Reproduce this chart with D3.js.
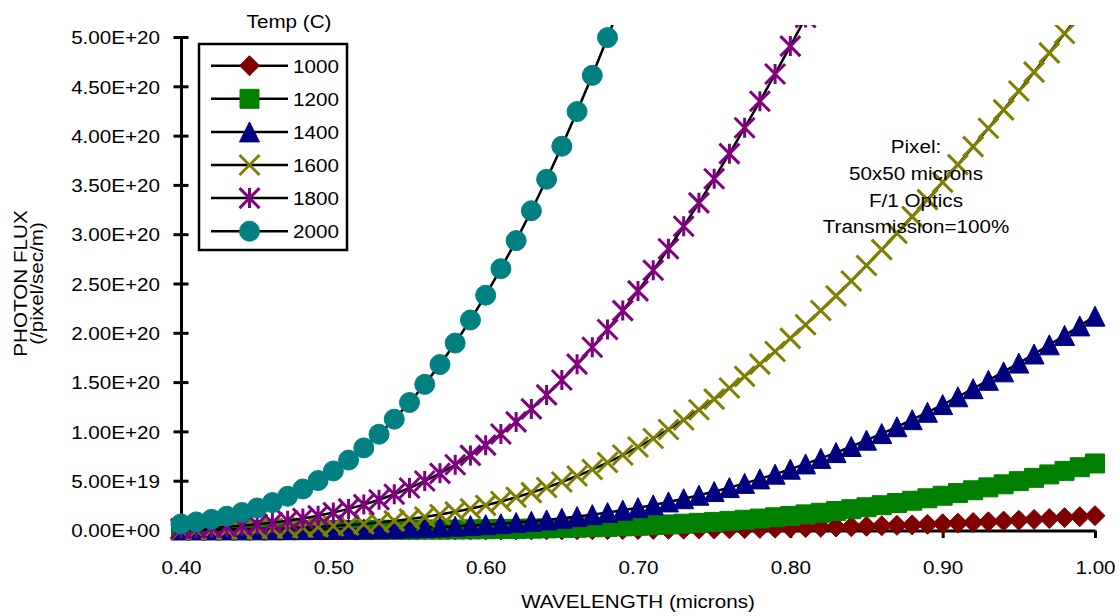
<!DOCTYPE html>
<html>
<head>
<meta charset="utf-8">
<title>Photon flux vs wavelength</title>
<script src="https://cdn.jsdelivr.net/npm/d3@7"></script>
<style>
  html, body { margin: 0; padding: 0; background: #fff; }
  svg { display: block; font-family: "Liberation Sans", Arial, Helvetica, sans-serif; }
</style>
</head>
<body>
<svg id="chart" width="1120" height="616"></svg>
<script>
// Wavelength samples (microns)
const wavelength = [
  0.40, 0.41, 0.42, 0.43, 0.44, 0.45, 0.46, 0.47, 0.48, 0.49,
  0.50, 0.51, 0.52, 0.53, 0.54, 0.55, 0.56, 0.57, 0.58, 0.59,
  0.60, 0.61, 0.62, 0.63, 0.64, 0.65, 0.66, 0.67, 0.68, 0.69,
  0.70, 0.71, 0.72, 0.73, 0.74, 0.75, 0.76, 0.77, 0.78, 0.79,
  0.80, 0.81, 0.82, 0.83, 0.84, 0.85, 0.86, 0.87, 0.88, 0.89,
  0.90, 0.91, 0.92, 0.93, 0.94, 0.95, 0.96, 0.97, 0.98, 0.99,
  1.00
];

// Photon flux per pixel, in units of 1e18 /pixel/sec/m
const FLUX_UNIT = 1e18;

const flux1000 = [
  0.00002, 0.00004, 0.00008, 0.00013, 0.00022, 0.00036, 0.00056, 0.00087, 0.0013, 0.0020,
  0.0029, 0.0041, 0.0059, 0.0082, 0.0113, 0.0153, 0.0206, 0.0273, 0.0359, 0.0467,
  0.0600, 0.0765, 0.0967, 0.121, 0.150, 0.186, 0.227, 0.276, 0.334, 0.400,
  0.478, 0.567, 0.668, 0.784, 0.915, 1.063, 1.230, 1.416, 1.623, 1.852,
  2.106, 2.386, 2.693, 3.029, 3.396, 3.794, 4.226, 4.693, 5.196, 5.737,
  6.318, 6.938, 7.603, 8.310, 9.060, 9.855, 10.70, 11.59, 12.53, 13.51,
  14.55
];

const flux1200 = [
  0.0011, 0.0019, 0.0030, 0.0047, 0.0072, 0.0108, 0.0158, 0.0228, 0.0323, 0.0450,
  0.0619, 0.0839, 0.112, 0.148, 0.193, 0.250, 0.319, 0.404, 0.506, 0.628,
  0.774, 0.946, 1.148, 1.383, 1.654, 1.966, 2.322, 2.727, 3.185, 3.700,
  4.275, 4.917, 5.628, 6.414, 7.278, 8.224, 9.258, 10.38, 11.60, 12.92,
  14.34, 15.86, 17.49, 19.24, 21.10, 23.07, 25.16, 27.38, 29.71, 32.17,
  34.75, 37.46, 40.29, 43.25, 46.34, 49.55, 52.90, 56.36, 59.95, 63.66,
  67.49
];

const flux1400 = [
  0.0212, 0.0324, 0.0485, 0.0711, 0.102, 0.144, 0.200, 0.273, 0.368, 0.488,
  0.639, 0.827, 1.059, 1.340, 1.680, 2.085, 2.565, 3.129, 3.785, 4.545,
  5.418, 6.415, 7.545, 8.820, 10.25, 11.85, 13.62, 15.58, 17.73, 20.09,
  22.66, 25.45, 28.48, 31.74, 35.25, 39.00, 43.01, 47.28, 51.82, 56.62,
  61.69, 67.03, 72.64, 78.52, 84.67, 91.09, 97.78, 104.7, 111.9, 119.4,
  127.2, 135.1, 143.3, 151.8, 160.4, 169.3, 178.5, 187.8, 197.3, 207.0,
  216.9
];

const flux1600 = [
  0.210, 0.304, 0.432, 0.601, 0.823, 1.109, 1.472, 1.927, 2.490, 3.178,
  4.011, 5.008, 6.190, 7.579, 9.199, 11.07, 13.22, 15.67, 18.43, 21.55,
  25.03, 28.90, 33.18, 37.88, 43.04, 48.65, 54.74, 61.32, 68.41, 76.01,
  84.13, 92.77, 101.9, 111.6, 121.9, 132.7, 144.0, 155.8, 168.2, 181.0,
  194.4, 208.2, 222.6, 237.4, 252.6, 268.3, 284.4, 300.9, 317.8, 335.1,
  352.7, 370.6, 388.8, 407.4, 426.1, 445.2, 464.4, 483.9, 503.5, 523.3,
  543.2
];

// 0.40 - 0.82 microns (beyond that the curve is above the chart)
const flux1800 = [
  1.341, 1.855, 2.521, 3.369, 4.435, 5.755, 7.371, 9.323, 11.66, 14.42,
  17.65, 21.41, 25.74, 30.68, 36.28, 42.59, 49.64, 57.48, 66.14, 75.66,
  86.06, 97.38, 109.6, 122.8, 137.0, 152.1, 168.2, 185.3, 203.4, 222.5,
  242.5, 263.4, 285.3, 308.1, 331.8, 356.3, 381.7, 407.9, 434.8, 462.5,
  490.8, 519.8, 549.5
];

// 0.40 - 0.70 microns
const flux2000 = [
  6.173, 8.227, 10.79, 13.94, 17.77, 22.36, 27.80, 34.19, 41.60, 50.14,
  59.88, 70.91, 83.29, 97.11, 112.4, 129.3, 147.7, 167.8, 189.6, 213.0,
  238.1, 265.0, 293.5, 323.8, 355.7, 389.2, 424.4, 461.1, 499.4, 539.1,
  580.2
];

const tempLabels = ["1000", "1200", "1400", "1600", "1800", "2000"];
const seriesFlux = [flux1000, flux1200, flux1400, flux1600, flux1800, flux2000];
const seriesColors = ["#800000", "#008000", "#000080", "#808000", "#800080", "#008080"];
const seriesMarkers = ["diamond", "square", "triangle", "cross", "star", "circle"];

const xTicks = [0.40, 0.50, 0.60, 0.70, 0.80, 0.90, 1.00];
const xTickLabels = ["0.40", "0.50", "0.60", "0.70", "0.80", "0.90", "1.00"];
const yTicks = [0, 5e19, 1e20, 1.5e20, 2e20, 2.5e20, 3e20, 3.5e20, 4e20, 4.5e20, 5e20];
const yTickLabels = ["0.00E+00", "5.00E+19", "1.00E+20", "1.50E+20", "2.00E+20", "2.50E+20",
                     "3.00E+20", "3.50E+20", "4.00E+20", "4.50E+20", "5.00E+20"];

const xTitle = "WAVELENGTH (microns)";
const yTitleLines = ["PHOTON FLUX", "(/pixel/sec/m)"];
const legendTitle = "Temp (C)";
const noteLines = ["Pixel:", "50x50 microns", "F/1 Optics", "Transmission=100%"];

// ---- layout ----
const W = 1120, H = 616;
const plot = { left: 181, right: 1095, top: 37, bottom: 530 };
const FONT = 18.6;      // glyph height
const STRETCH = 1.11;   // slightly wide lettering

const svg = d3.select("#chart");
svg.append("rect").attr("width", W).attr("height", H).attr("fill", "#fff");

const x = d3.scaleLinear().domain([0.4, 1.0]).range([plot.left, plot.right]);
const y = d3.scaleLinear().domain([0, 5e20]).range([plot.bottom, plot.top]);

// Places a text at (tx, ty) with wide lettering, optionally rotated.
function addText(parent, str, tx, ty, anchor, rot) {
  return parent.append("text")
    .attr("transform", `translate(${tx},${ty})${rot ? ` rotate(${rot})` : ""} scale(${STRETCH},1)`)
    .attr("text-anchor", anchor || "start")
    .attr("font-size", FONT)
    .attr("fill", "#000")
    .text(str);
}

// ---- axes ----
const yAxis = d3.axisLeft(y)
  .tickValues(yTicks)
  .tickFormat((d, i) => yTickLabels[i])
  .tickSizeInner(7.5)
  .tickSizeOuter(0);
const gy = svg.append("g")
  .attr("transform", `translate(${plot.left},0)`)
  .call(yAxis)
  .attr("font-size", null).attr("font-family", null);
gy.select(".domain").attr("stroke", "#000").attr("stroke-width", 3);
gy.selectAll(".tick line").attr("x1", 7.5).attr("x2", -7.5).attr("stroke", "#000").attr("stroke-width", 3);
gy.selectAll(".tick text")
  .attr("x", 0).attr("dy", "0.36em")
  .attr("transform", `translate(-21,0) scale(${STRETCH},1)`)
  .attr("font-size", FONT).attr("fill", "#000");

const xAxis = d3.axisBottom(x)
  .tickValues(xTicks)
  .tickFormat((d, i) => xTickLabels[i])
  .tickSizeInner(7.5)
  .tickSizeOuter(0);
const gx = svg.append("g")
  .attr("transform", `translate(0,${plot.bottom + 0.5})`)
  .call(xAxis)
  .attr("font-size", null).attr("font-family", null);
gx.select(".domain").attr("stroke", "#000").attr("stroke-width", 3);
gx.selectAll(".tick line").attr("stroke", "#000").attr("stroke-width", 3);
gx.selectAll(".tick text")
  .attr("y", 0).attr("dy", 0)
  .attr("transform", `translate(0,43) scale(${STRETCH},1)`)
  .attr("font-size", FONT).attr("fill", "#000");

// axis titles
addText(svg, xTitle, (plot.left + plot.right) / 2, 608, "middle");
const yTitleX = [26.5, 43];
yTitleLines.forEach((line, i) => {
  addText(svg, line, yTitleX[i], (plot.top + plot.bottom) / 2, "middle", -90);
});

// ---- markers ----
function markerPath(type, h) {
  switch (type) {
    case "diamond":  return `M0,${-h}L${h},0L0,${h}L${-h},0Z`;
    case "square":   return `M${-h},${-h}H${h}V${h}H${-h}Z`;
    case "triangle": return `M0,${-h}L${h},${h}L${-h},${h}Z`;
    case "cross":    return `M${-h},${-h}L${h},${h}M${h},${-h}L${-h},${h}`;
    case "star":     return `M${-h},${-h}L${h},${h}M${h},${-h}L${-h},${h}M0,${-h}L0,${h}`;
    case "circle":   return `M${h},0A${h},${h} 0 1,1 ${-h},0A${h},${h} 0 1,1 ${h},0Z`;
  }
}
function drawMarker(g, type, color, cx, cy) {
  const open = type === "cross" || type === "star";
  const h = type === "square" ? 9.5 : 10;
  g.append("path")
    .attr("transform", `translate(${cx},${cy})`)
    .attr("d", markerPath(type, h))
    .attr("fill", open ? "none" : color)
    .attr("stroke", color)
    .attr("stroke-width", open ? 3 : 1);
}

// ---- series ----
svg.append("clipPath").attr("id", "plot-clip")
  .append("rect")
  .attr("x", plot.left - 11).attr("y", plot.top - 12)
  .attr("width", plot.right - plot.left + 23).attr("height", plot.bottom - plot.top + 24);

const gSeries = svg.append("g").attr("clip-path", "url(#plot-clip)");
const line = d3.line()
  .x(d => x(d.w))
  .y(d => y(d.v * FLUX_UNIT));

seriesFlux.forEach((vals, s) => {
  const pts = vals.map((v, i) => ({ w: wavelength[i], v }));
  const g = gSeries.append("g");
  g.append("path")
    .datum(pts)
    .attr("d", line)
    .attr("fill", "none")
    .attr("stroke", "#000")
    .attr("stroke-width", 2.5);
  pts.forEach(p => drawMarker(g, seriesMarkers[s], seriesColors[s], x(p.w), y(p.v * FLUX_UNIT)));
});

// ---- legend ----
const legend = { x: 199, y: 44, w: 148, h: 206 };
addText(svg, legendTitle, 289, 28, "middle");
svg.append("rect")
  .attr("x", legend.x).attr("y", legend.y)
  .attr("width", legend.w).attr("height", legend.h)
  .attr("fill", "#fff").attr("stroke", "#000").attr("stroke-width", 2.5);
tempLabels.forEach((lab, i) => {
  const cy = 65.7 + i * 33.1;
  const g = svg.append("g");
  g.append("line")
    .attr("x1", 211).attr("x2", 288).attr("y1", cy).attr("y2", cy)
    .attr("stroke", "#000").attr("stroke-width", 2.5);
  drawMarker(g, seriesMarkers[i], seriesColors[i], 249.5, cy);
  addText(g, lab, 293, cy + 6.8, "start");
});

// ---- annotation ----
noteLines.forEach((t, i) => {
  addText(svg, t, 916, 153.3 + i * 26.7, "middle");
});
</script>
</body>
</html>
